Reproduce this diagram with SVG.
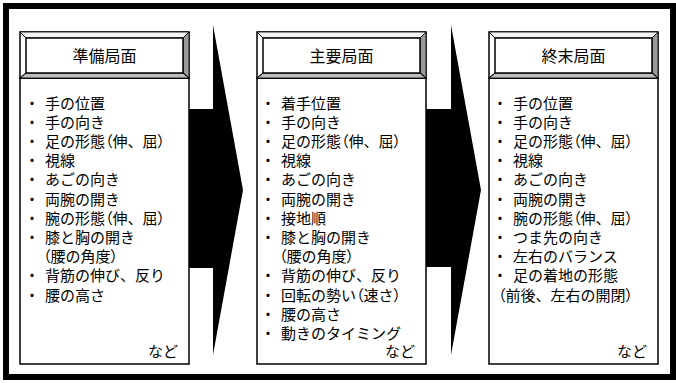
<svg xmlns="http://www.w3.org/2000/svg" xmlns:xlink="http://www.w3.org/1999/xlink" width="676" height="383" viewBox="0 0 676 383">
<style>
text{font-family:"Noto Sans CJK JP","Noto Sans",sans-serif;fill:#000;}
.h{font-size:16px;text-anchor:middle;}
.t{font-size:15px;}
.p{font-feature-settings:"palt";}
.b{fill:#fff;stroke:#000;stroke-width:1.5;}
.ln{fill:none;stroke:#000;stroke-width:1;}
</style>
<defs>
<g id="hdr">
<rect x="0" y="0" width="169" height="46" fill="#fff" stroke="#000" stroke-width="1.5"/>
<polygon points="169,0 169,46 163,41 163,6" fill="#999" stroke="#000" stroke-width="0.8"/>
<polygon points="0,46 169,46 163,41 6,41" fill="#bcbcbc" stroke="#000" stroke-width="0.8"/>
<polygon points="0,0 169,0 163,6 6,6" fill="#f2f2f2" stroke="#000" stroke-width="0.8"/>
<rect x="6" y="6" width="157" height="35" fill="#fff" stroke="#000" stroke-width="1.5"/>
<path class="ln" d="M0,0 L6,6 M169,0 L163,6 M0,46 L6,41 M169,46 L163,41"/>
</g>
</defs>
<rect x="6" y="6" width="667" height="371" fill="#fff" stroke="#000" stroke-width="6"/>
<g id="connectors">
<polygon points="180,109 213,109 213,25 243,190 213,355 213,268 180,268" fill="#000"/>
<polygon points="418,109 451,109 451,25 481,190 451,355 451,267 418,267" fill="#000"/>
</g>
<g id="box1">
<rect class="b" x="20" y="78" width="169" height="286"/>
<use xlink:href="#hdr" x="20" y="32"/>
<text class="h" x="104.5" y="61.5">準備局面</text>
<text class="t"><tspan x="24.5" y="108.5">・</tspan><tspan x="24.5" y="127.7">・</tspan><tspan x="24.5" y="146.9">・</tspan><tspan x="24.5" y="166.1">・</tspan><tspan x="24.5" y="185.3">・</tspan><tspan x="24.5" y="204.5">・</tspan><tspan x="24.5" y="223.7">・</tspan><tspan x="24.5" y="242.9">・</tspan><tspan x="24.5" y="281.3">・</tspan><tspan x="24.5" y="300.5">・</tspan></text>
<text class="t"><tspan x="45" y="108.5">手の位置</tspan><tspan x="45" y="127.7">手の向き</tspan><tspan x="45" y="146.9">足の形態<tspan class="p">（</tspan>伸、屈<tspan class="p">）</tspan></tspan><tspan x="45" y="166.1">視線</tspan><tspan x="45" y="185.3">あごの向き</tspan><tspan x="45" y="204.5">両腕の開き</tspan><tspan x="45" y="223.7">腕の形態<tspan class="p">（</tspan>伸、屈<tspan class="p">）</tspan></tspan><tspan x="45" y="242.9">膝と胸の開き</tspan><tspan x="43" y="262.1"><tspan class="p">（</tspan>腰の角度<tspan class="p">）</tspan></tspan><tspan x="45" y="281.3">背筋の伸び、反り</tspan><tspan x="45" y="300.5">腰の高さ</tspan></text>
<text class="t" x="148" y="356.5">など</text>
</g>
<g id="box2">
<rect class="b" x="257" y="78" width="169" height="286"/>
<use xlink:href="#hdr" x="257" y="32"/>
<text class="h" x="341.5" y="61.5">主要局面</text>
<text class="t"><tspan x="260.5" y="108.5">・</tspan><tspan x="260.5" y="127.7">・</tspan><tspan x="260.5" y="146.9">・</tspan><tspan x="260.5" y="166.1">・</tspan><tspan x="260.5" y="185.3">・</tspan><tspan x="260.5" y="204.5">・</tspan><tspan x="260.5" y="223.7">・</tspan><tspan x="260.5" y="242.9">・</tspan><tspan x="260.5" y="281.3">・</tspan><tspan x="260.5" y="300.5">・</tspan><tspan x="260.5" y="319.7">・</tspan><tspan x="260.5" y="338.9">・</tspan></text>
<text class="t"><tspan x="281" y="108.5">着手位置</tspan><tspan x="281" y="127.7">手の向き</tspan><tspan x="281" y="146.9">足の形態<tspan class="p">（</tspan>伸、屈<tspan class="p">）</tspan></tspan><tspan x="281" y="166.1">視線</tspan><tspan x="281" y="185.3">あごの向き</tspan><tspan x="281" y="204.5">両腕の開き</tspan><tspan x="281" y="223.7">接地順</tspan><tspan x="281" y="242.9">膝と胸の開き</tspan><tspan x="279" y="262.1"><tspan class="p">（</tspan>腰の角度<tspan class="p">）</tspan></tspan><tspan x="281" y="281.3">背筋の伸び、反り</tspan><tspan x="281" y="300.5">回転の勢い<tspan class="p">（</tspan>速さ<tspan class="p">）</tspan></tspan><tspan x="281" y="319.7">腰の高さ</tspan><tspan x="281" y="338.9">動きのタイミング</tspan></text>
<text class="t" x="385" y="356.5">など</text>
</g>
<g id="box3">
<rect class="b" x="489" y="78" width="169" height="286"/>
<use xlink:href="#hdr" x="489" y="32"/>
<text class="h" x="573.5" y="61.5">終末局面</text>
<text class="t"><tspan x="492.5" y="108.5">・</tspan><tspan x="492.5" y="127.7">・</tspan><tspan x="492.5" y="146.9">・</tspan><tspan x="492.5" y="166.1">・</tspan><tspan x="492.5" y="185.3">・</tspan><tspan x="492.5" y="204.5">・</tspan><tspan x="492.5" y="223.7">・</tspan><tspan x="492.5" y="242.9">・</tspan><tspan x="492.5" y="262.1">・</tspan><tspan x="492.5" y="281.3">・</tspan></text>
<text class="t"><tspan x="513" y="108.5">手の位置</tspan><tspan x="513" y="127.7">手の向き</tspan><tspan x="513" y="146.9">足の形態<tspan class="p">（</tspan>伸、屈<tspan class="p">）</tspan></tspan><tspan x="513" y="166.1">視線</tspan><tspan x="513" y="185.3">あごの向き</tspan><tspan x="513" y="204.5">両腕の開き</tspan><tspan x="513" y="223.7">腕の形態<tspan class="p">（</tspan>伸、屈<tspan class="p">）</tspan></tspan><tspan x="513" y="242.9">つま先の向き</tspan><tspan x="513" y="262.1">左右のバランス</tspan><tspan x="513" y="281.3">足の着地の形態</tspan><tspan x="498" y="300.5"><tspan class="p">（</tspan>前後、左右の開閉<tspan class="p">）</tspan></tspan></text>
<text class="t" x="617" y="356.5">など</text>
</g>
</svg>
